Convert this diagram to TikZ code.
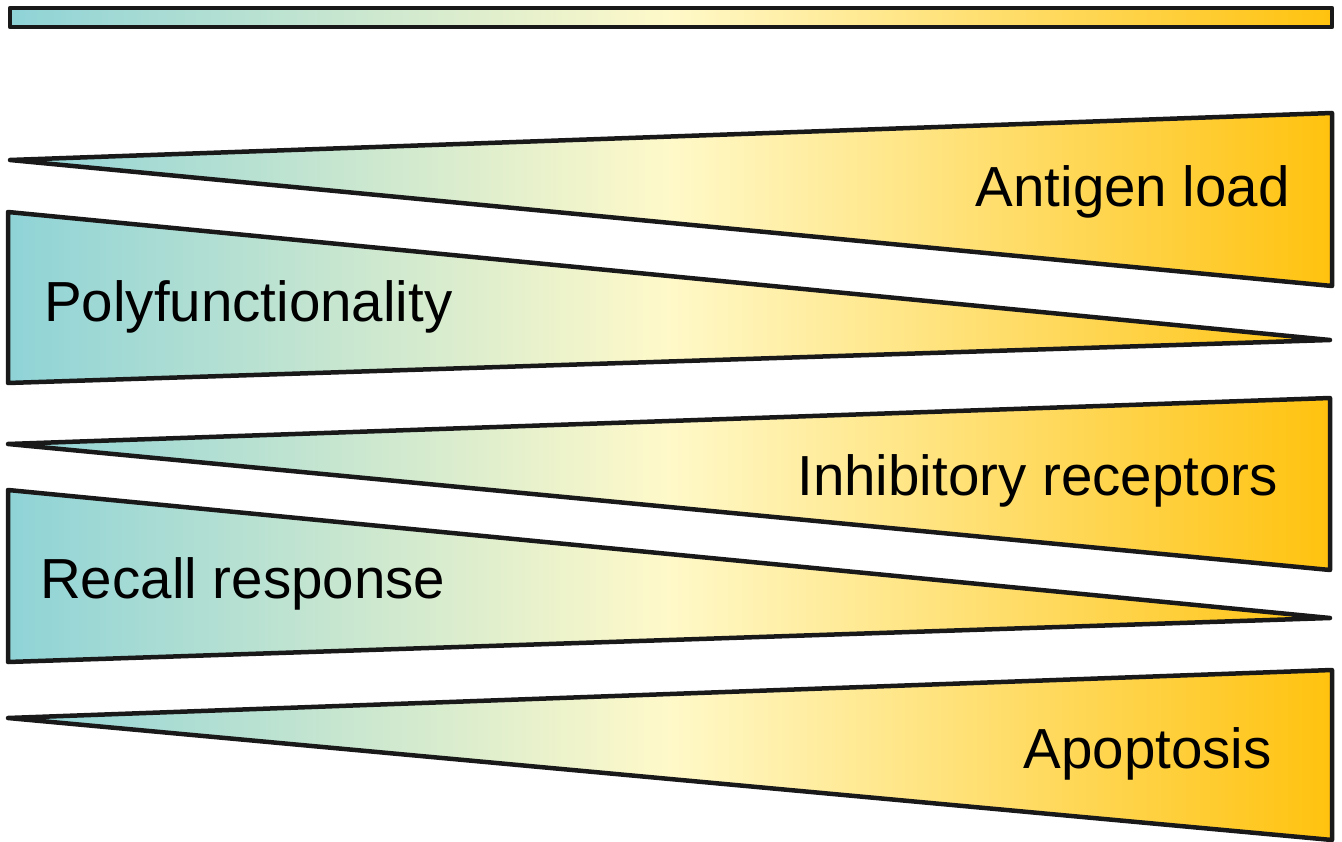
\documentclass[tikz,border=0pt]{standalone}
\usepackage{fontspec}
\setmainfont{Liberation Sans}
\definecolor{cteal}{HTML}{8FD3D7}
\definecolor{cpale}{HTML}{FFF9C9}
\definecolor{corange}{HTML}{FFC20E}
\begin{document}
\begin{tikzpicture}[x=1pt,y=-1pt,
  grad/.style={left color=cteal, right color=corange, middle color=cpale},
  edge/.style={line width=4.5pt, draw=black!90, line join=round},
  lab/.style={font=\fontsize{56.5}{66}\selectfont, inner sep=0pt}]
\useasboundingbox (0,0) rectangle (1342,842);
% top bar
\shade[grad] (10,8) rectangle (1332,27);
\draw[edge] (10,8) rectangle (1332,27);
% triangle 1
\shade[grad] (10,160) -- (1332,113) -- (1332,286) -- cycle;
\draw[edge] (10,160) -- (1332,113) -- (1332,286) -- cycle;
% triangle 2
\shade[grad] (8,212) -- (1330,340) -- (8,383) -- cycle;
\draw[edge] (8,212) -- (1330,340) -- (8,383) -- cycle;
% triangle 3
\shade[grad] (8,444) -- (1330,398) -- (1330,570) -- cycle;
\draw[edge] (8,444) -- (1330,398) -- (1330,570) -- cycle;
% triangle 4
\shade[grad] (8,490) -- (1330,618) -- (8,662) -- cycle;
\draw[edge] (8,490) -- (1330,618) -- (8,662) -- cycle;
% triangle 5
\shade[grad] (8,718) -- (1332,670) -- (1332,840) -- cycle;
\draw[edge] (8,718) -- (1332,670) -- (1332,840) -- cycle;
% labels
\node[lab, anchor=base east] (antigen) at (1290,207) {Antigen load};
\node[lab, anchor=base west] (poly) at (44,322) {Polyfunctionality};
\node[lab, anchor=base east] (inhib) at (1278,495) {Inhibitory receptors};
\node[lab, anchor=base west] (recall) at (40,598) {Recall response};
\node[lab, anchor=base east] (apop) at (1272,768) {Apoptosis};
\end{tikzpicture}
\end{document}
